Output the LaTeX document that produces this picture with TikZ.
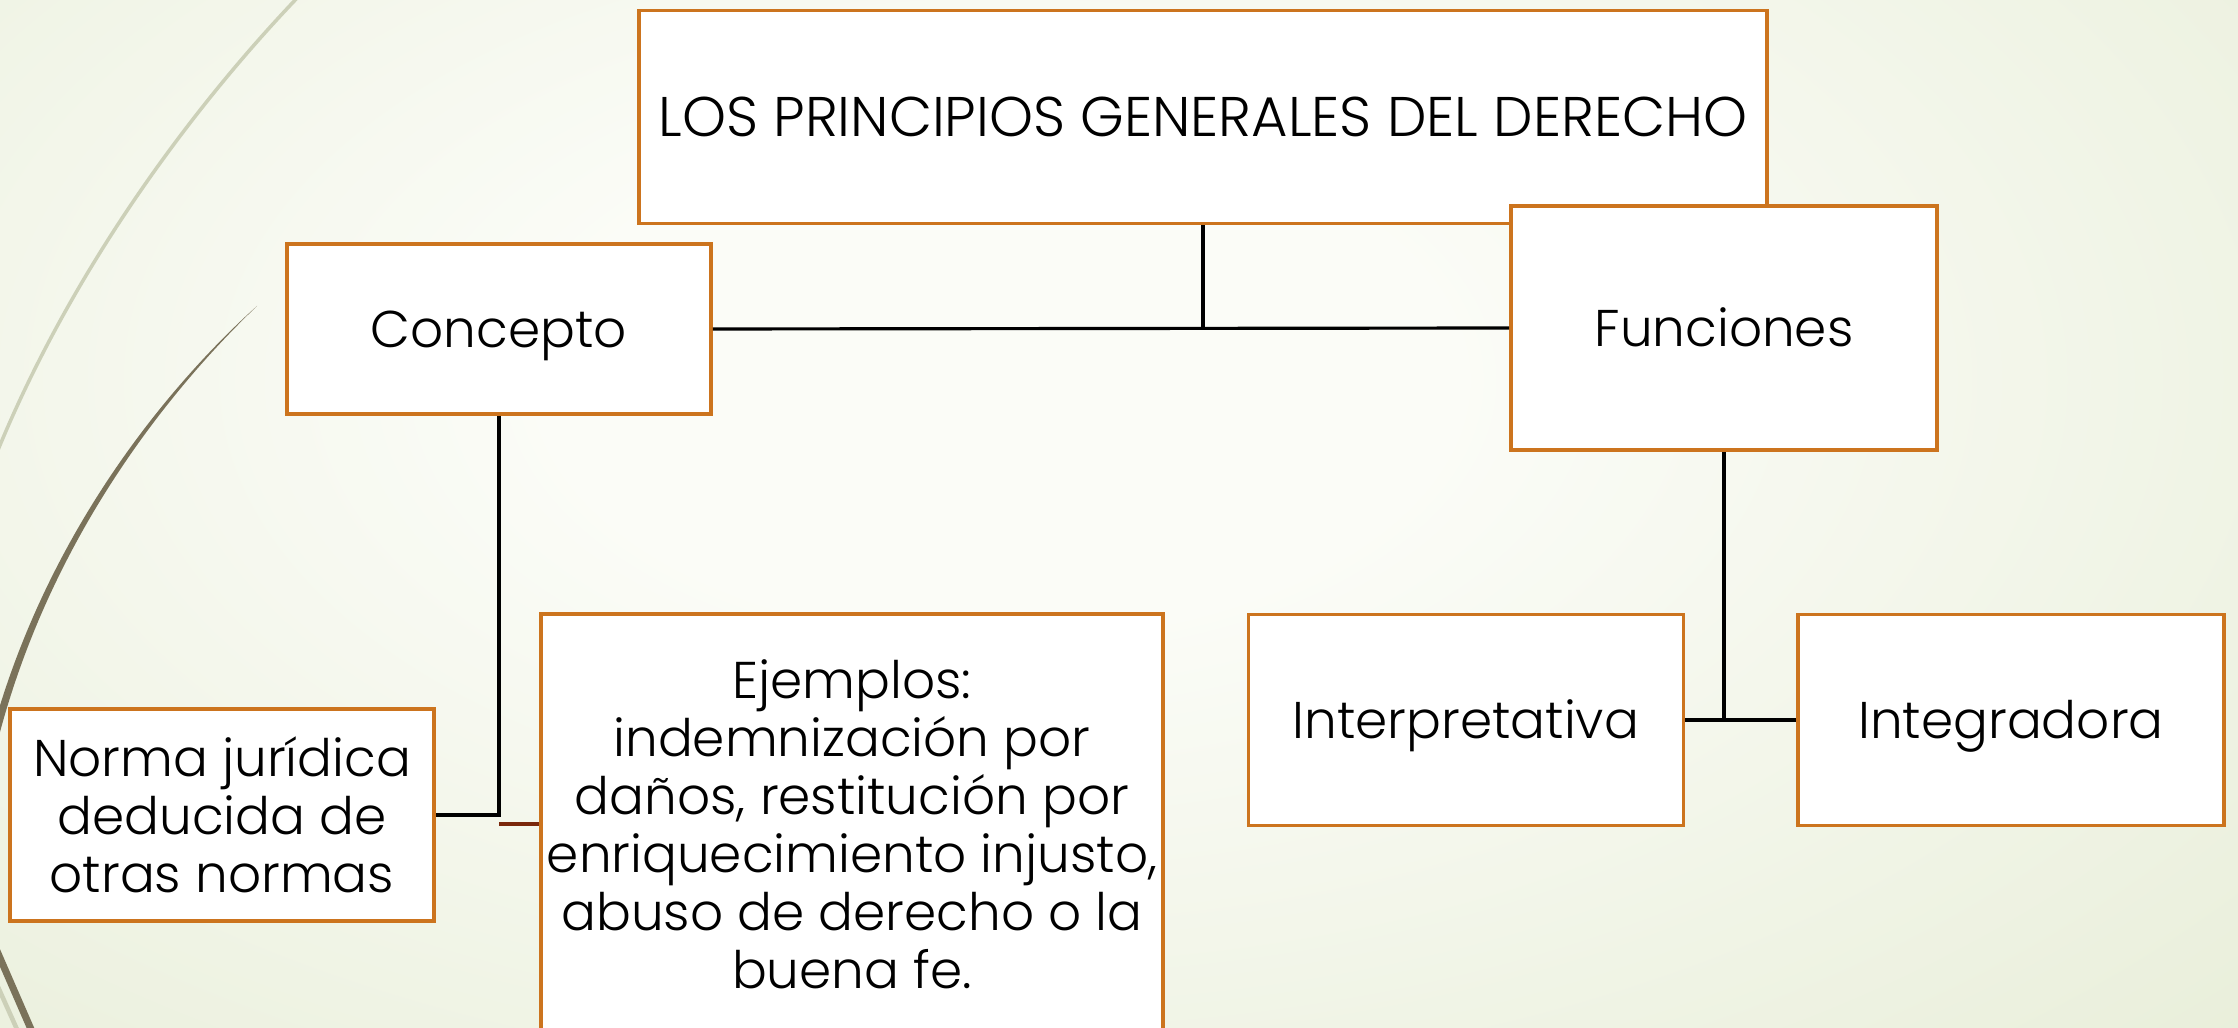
\documentclass[tikz,border=0pt]{standalone}
\usepackage{fontspec}
\setmainfont{Poppins Light}
\definecolor{boxline}{RGB}{204,116,30}
\definecolor{bgin}{RGB}{251,252,247}
\definecolor{bgout}{RGB}{224,232,204}
\definecolor{arcdark}{RGB}{122,114,90}
\definecolor{arclight}{RGB}{204,208,184}
\definecolor{linkred}{RGB}{122,40,12}
\pgfdeclareradialshading{slideglow}{\pgfpoint{0bp}{0bp}}{color(0bp)=(bgin); color(8bp)=(bgin); color(42bp)=(bgout); color(80bp)=(bgout)}
\tikzstyle{entry}=[draw=boxline, fill=white, line width=1pt, inner sep=0pt, align=center, font=\fontsize{14.7}{16.5}\selectfont]
\tikzstyle{oneline}=[text height=10.3pt, text depth=0pt]
\tikzstyle{link}=[line width=.9pt]

\begin{document}
\begin{tikzpicture}[x=.01cm,y=-.01cm]
    \useasboundingbox (0,0) rectangle (2238,1028);
    \clip (0,0) rectangle (2238,1028);

    % Slide
    \shade[shading=slideglow] (-400,-400) rectangle (2400,1160);
    \draw[arclight,line width=1pt] (300,-5) .. controls (180,120) and (60,290) .. (-10,470);
    \fill[arcdark] (257,306) .. controls (180,375) and (40,530) .. (-15,760)
        -- (-7,760) .. controls (46,532) and (183,377) .. (257,306) -- cycle;
    \draw[arclight,line width=1.3pt] (-10,969) -- (24,1045);
    \draw[arcdark,line width=2pt] (-10,935) -- (40,1050);

    % Boxes
    \draw (1203,117) node[entry, font=\fontsize{15.9}{17}\selectfont, text height=11.1pt, text depth=0pt, minimum width=11.27cm, minimum height=2.13cm] (title) {LOS PRINCIPIOS GENERALES DEL DERECHO};
    \draw (499,329) node[entry, oneline, minimum width=4.24cm, minimum height=1.70cm] (concepto) {Concepto};
    \draw (1724,328) node[entry, oneline, minimum width=4.26cm, minimum height=2.44cm] (funciones) {Funciones};
    \draw (222,815) node[entry, minimum width=4.24cm, minimum height=2.12cm] (norma) {Norma jurídica\\deducida de\\otras normas};
    \draw (852,824) node[entry, minimum width=6.22cm, minimum height=4.20cm] (ejemplos) {Ejemplos:\\indemnización por\\daños, restitución por\\enriquecimiento injusto,\\abuso de derecho o la\\buena fe.};
    \draw (1466,720) node[entry, oneline, minimum width=4.35cm, minimum height=2.11cm] (interp) {Interpretativa};
    \draw (2011,720) node[entry, oneline, minimum width=4.26cm, minimum height=2.11cm] (integ) {Integradora};

    % Links
    \coordinate (fork) at (title.south |- concepto.east);
    \draw[link] (title.south) -- (fork);
    \draw[link] (concepto.east) -- (funciones.west);
    \draw[link] (concepto.south) |- (norma.east);
    \draw[link,linkred] (concepto.south |- ejemplos.west) -- (ejemplos.west);
    \draw[link] (funciones.south) -- (funciones.south |- interp.east);
    \draw[link] (interp.east) -- (integ.west);
\end{tikzpicture}
\end{document}
